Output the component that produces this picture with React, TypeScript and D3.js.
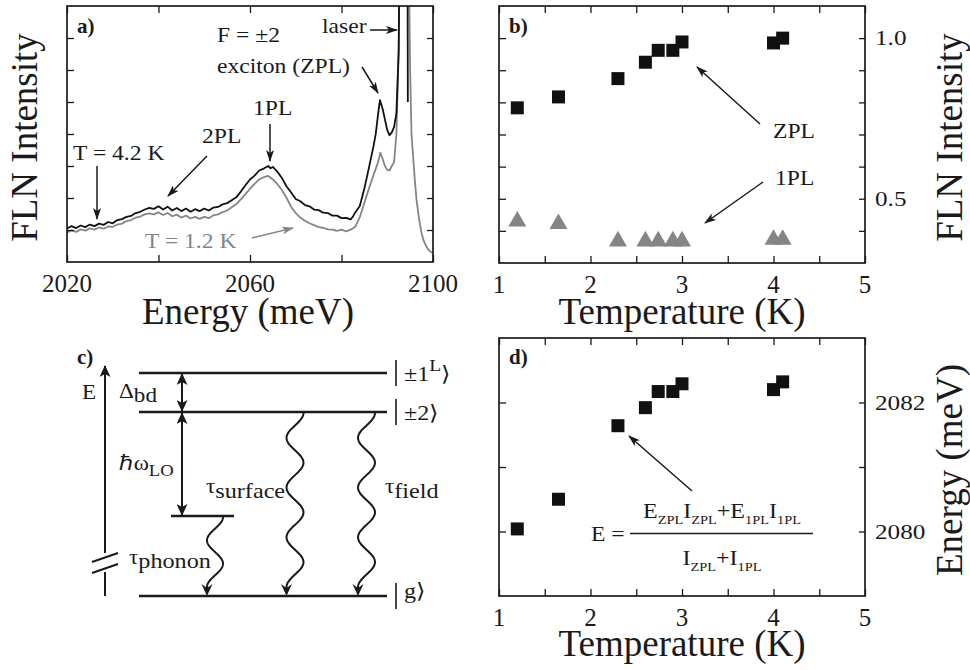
import React, { useEffect, useRef } from "react";
import * as d3 from "d3";

// panel a: FLN spectra [energy (meV), intensity (arb. units)]
const spec42K: [number, number][] = [
  [2020, 1.05], [2021, 1.12], [2022, 1.06], [2023, 1.14], [2024, 1.09], [2025, 1.17], [2026, 1.12],
  [2027, 1.2], [2028, 1.16], [2029, 1.25], [2030, 1.21], [2031, 1.31], [2032, 1.34], [2033, 1.41],
  [2034, 1.44], [2035, 1.53], [2036, 1.57], [2037, 1.64], [2038, 1.69], [2039, 1.66], [2040, 1.74],
  [2041, 1.64], [2042, 1.73], [2043, 1.61], [2044, 1.69], [2045, 1.59], [2046, 1.67], [2047, 1.57],
  [2048, 1.65], [2049, 1.59], [2050, 1.67], [2051, 1.61], [2052, 1.7], [2053, 1.72], [2054, 1.8],
  [2055, 1.84], [2056, 1.93], [2057, 2.02], [2058, 2.2], [2059, 2.4], [2060, 2.58], [2061, 2.7],
  [2062, 2.86], [2063, 2.92], [2064, 3.0], [2064.5, 2.93], [2065, 2.97], [2066, 2.82], [2067, 2.62],
  [2068, 2.36], [2069, 2.17], [2070, 1.97], [2071, 1.9], [2072, 1.78], [2073, 1.74], [2074, 1.64],
  [2075, 1.62], [2076, 1.54], [2077, 1.53], [2078, 1.45], [2079, 1.45], [2080, 1.37], [2081, 1.38],
  [2082, 1.33], [2082.5, 1.42], [2083, 1.55], [2084, 1.75], [2085, 2.3], [2085.5, 2.62], [2086, 2.95],
  [2087, 3.62], [2087.5, 4.02], [2088, 4.62], [2088.4, 5.06], [2089, 4.78], [2089.5, 4.45], [2090, 4.12],
  [2090.5, 3.96], [2091, 4.05], [2091.5, 4.22], [2092, 4.65], [2092.5, 6.6], [2092.8, 12], [2094.4, 12],
  [2094.5, 5.0],
];
const spec12K: [number, number][] = [
  [2020, 0.92], [2021, 0.99], [2022, 0.94], [2023, 1.02], [2024, 0.98], [2025, 1.05], [2026, 1.01],
  [2027, 1.08], [2028, 1.04], [2029, 1.11], [2030, 1.1], [2031, 1.17], [2032, 1.2], [2033, 1.28],
  [2034, 1.31], [2035, 1.39], [2036, 1.42], [2037, 1.49], [2038, 1.52], [2039, 1.49], [2040, 1.55],
  [2041, 1.47], [2042, 1.53], [2043, 1.43], [2044, 1.48], [2045, 1.39], [2046, 1.45], [2047, 1.36],
  [2048, 1.41], [2049, 1.35], [2050, 1.41], [2051, 1.37], [2052, 1.46], [2053, 1.49], [2054, 1.56],
  [2055, 1.61], [2056, 1.71], [2057, 1.81], [2058, 1.96], [2059, 2.12], [2060, 2.29], [2061, 2.44],
  [2062, 2.58], [2063, 2.65], [2064, 2.69], [2065, 2.58], [2066, 2.43], [2067, 2.24], [2068, 2.0],
  [2069, 1.72], [2070, 1.53], [2071, 1.39], [2072, 1.29], [2073, 1.21], [2074, 1.15], [2075, 1.09],
  [2076, 1.07], [2077, 1.02], [2078, 1.01], [2079, 0.97], [2080, 1.01], [2081, 0.96], [2082, 1.01],
  [2083, 1.1], [2084, 1.4], [2085, 1.85], [2086, 2.3], [2087, 2.72], [2088, 3.12], [2088.5, 3.42],
  [2089, 3.22], [2089.5, 3.0], [2090, 2.88], [2090.5, 2.86], [2091, 3.0], [2091.5, 3.12], [2092, 4.0],
  [2092.5, 6.6], [2092.9, 12], [2094.5, 12], [2095, 6.0], [2095.3, 4.0], [2096, 2.6], [2096.4, 1.94],
  [2097, 1.3], [2097.5, 0.9], [2098, 0.65], [2098.6, 0.47], [2099, 0.38], [2099.5, 0.32], [2100, 0.28],
];

// panels b and d
const temps = [1.2, 1.65, 2.3, 2.6, 2.74, 2.9, 3.0, 4.0, 4.1];
const zplInt = [0.783, 0.817, 0.874, 0.925, 0.962, 0.962, 0.988, 0.985, 1.0];
const onePLInt = [0.438, 0.43, 0.376, 0.376, 0.376, 0.376, 0.376, 0.381, 0.381];
const meanEnergy = [2080.04, 2080.5, 2081.64, 2081.92, 2082.17, 2082.17, 2082.29, 2082.2, 2082.32];

const energyTicks = [2020, 2040, 2060, 2080, 2100];
const energyLabels = [2020, 2060, 2100];
const specTicks = [1, 2, 3, 4, 5, 6, 7];
const tempTicks = [1, 1.5, 2, 2.5, 3, 3.5, 4, 4.5, 5];
const tempLabels = [1, 2, 3, 4, 5];
const intTicks = [0.4, 0.5, 0.6, 0.7, 0.8, 0.9, 1.0];
const intLabels = [0.5, 1.0];
const eTicks = [2080, 2081, 2082];
const eLabels = [2080, 2082];

const FONT = "'Liberation Serif','Times New Roman',Times,serif";
const INK = "#1a1a1a";
const GREY = "#858585";

type Part = { t: string; size?: number; dy?: number };
type Opts = { size: number; sx?: number; anchor?: string; weight?: string; fill?: string; rot?: number };

function label(g: any, x: number, y: number, parts: string | Part[], o: Opts) {
  const t = g
    .append("text")
    .attr("transform", `translate(${x},${y}) rotate(${o.rot ?? 0}) scale(${o.sx ?? 1},1)`)
    .attr("font-family", FONT)
    .attr("font-size", o.size)
    .attr("text-anchor", o.anchor ?? "start")
    .attr("fill", o.fill ?? INK)
    .attr("stroke", "none");
  if (o.weight) t.attr("font-weight", o.weight);
  if (typeof parts === "string") t.text(parts);
  else
    parts.forEach((p) => {
      const s = t.append("tspan").text(p.t);
      if (p.size) s.attr("font-size", p.size);
      if (p.dy) s.attr("dy", p.dy);
    });
  return t;
}

function frame(g: any, x: any, y: any, xTicks: number[], yTicks: number[]) {
  const [x0, x1] = x.range();
  const [y0, y1] = y.range();
  const add = (axis: any, tx: number, ty: number) => {
    const a = g.append("g").attr("transform", `translate(${tx},${ty})`).call(axis);
    a.select(".domain").remove();
    a.selectAll("text").remove();
    a.selectAll("line").attr("stroke", INK).attr("stroke-width", 1.3);
  };
  add(d3.axisBottom(x).tickValues(xTicks).tickSize(-7), 0, y0);
  add(d3.axisTop(x).tickValues(xTicks).tickSize(-7), 0, y1);
  add(d3.axisLeft(y).tickValues(yTicks).tickSize(-7), x0, 0);
  add(d3.axisRight(y).tickValues(yTicks).tickSize(-6), x1, 0);
  g.append("rect")
    .attr("x", x0).attr("y", y1)
    .attr("width", x1 - x0).attr("height", y0 - y1)
    .attr("fill", "none").attr("stroke", INK).attr("stroke-width", 1.7);
}

function arrow(g: any, x1: number, y1: number, x2: number, y2: number, grey = false) {
  g.append("line")
    .attr("x1", x1).attr("y1", y1).attr("x2", x2).attr("y2", y2)
    .attr("stroke", grey ? GREY : INK).attr("stroke-width", 1.5)
    .attr("marker-end", grey ? "url(#ahGrey)" : "url(#ah)");
}

function draw(svg: any) {
  const defs = svg.append("defs");
  const mk = (id: string, fill: string, w: number, h: number) =>
    defs.append("marker")
      .attr("id", id).attr("markerUnits", "userSpaceOnUse")
      .attr("markerWidth", w).attr("markerHeight", h)
      .attr("refX", w - 1).attr("refY", h / 2).attr("orient", "auto-start-reverse")
      .append("path")
      .attr("d", `M0,0L${w},${h / 2}L0,${h}L${w * 0.25},${h / 2}Z`)
      .attr("fill", fill);
  mk("ah", INK, 12, 8);
  mk("ahGrey", GREY, 12, 8);
  mk("ahBig", INK, 12, 11);

  // ---------- a) spectra ----------
  const ga = svg.append("g");
  const xE = d3.scaleLinear().domain([2020, 2100]).range([67, 433]);
  const yS = d3.scaleLinear().domain([0, 8]).range([262, 6]);
  defs.append("clipPath").attr("id", "clipA").append("rect")
    .attr("x", 67).attr("y", 6).attr("width", 366).attr("height", 256);
  const line = d3.line<[number, number]>().x((d) => xE(d[0])).y((d) => yS(d[1]));
  const curves = ga.append("g").attr("clip-path", "url(#clipA)");
  curves.append("path").attr("d", line(spec12K)).attr("fill", "none")
    .attr("stroke", GREY).attr("stroke-width", 1.8).attr("stroke-linejoin", "round");
  curves.append("path").attr("d", line(spec42K)).attr("fill", "none")
    .attr("stroke", "#111").attr("stroke-width", 1.8).attr("stroke-linejoin", "round");
  frame(ga, xE, yS, energyTicks, specTicks);
  energyLabels.forEach((v) => label(ga, xE(v), 292, String(v), { size: 25, anchor: "middle" }));
  label(ga, 248, 324, "Energy (meV)", { size: 37, anchor: "middle" });
  label(ga, 37, 137.5, "FLN Intensity", { size: 37, anchor: "middle", rot: -90 });

  label(ga, 77, 33, "a)", { size: 21, weight: "bold" });
  const ann = { size: 20, sx: 1.18 };
  label(ga, 217, 42, "F = ±2", ann);
  label(ga, 217, 73, "exciton (ZPL)", ann);
  label(ga, 322, 33, "laser", ann);
  arrow(ga, 370, 30, 397, 30);
  arrow(ga, 362, 67, 378, 93);
  label(ga, 253, 115, "1PL", ann);
  arrow(ga, 270, 124, 270, 161);
  label(ga, 202, 143, "2PL", ann);
  arrow(ga, 207, 156, 168, 196);
  label(ga, 73, 160, "T = 4.2 K", ann);
  arrow(ga, 97, 166, 97, 219);
  label(ga, 145, 248, "T = 1.2 K", { ...ann, fill: GREY });
  arrow(ga, 252, 238, 293, 228, true);

  // ---------- b) intensities ----------
  const gb = svg.append("g");
  const xT = d3.scaleLinear().domain([1, 5]).range([499, 865]);
  const yI = d3.scaleLinear().domain([0.3, 1.1]).range([263, 6]);
  frame(gb, xT, yI, tempTicks, intTicks);
  const sq = d3.symbol(d3.symbolSquare, 169)();
  const tri = d3.symbol(d3.symbolTriangle, 140)();
  gb.selectAll(".zpl").data(temps).enter().append("path")
    .attr("d", sq).attr("fill", "#111")
    .attr("transform", (d: number, i: number) => `translate(${xT(d)},${yI(zplInt[i])})`);
  gb.selectAll(".pl1").data(temps).enter().append("path")
    .attr("d", tri).attr("fill", GREY)
    .attr("transform", (d: number, i: number) => `translate(${xT(d)},${yI(onePLInt[i]) + 2.6})`);
  tempLabels.forEach((v) => label(gb, xT(v), 293, String(v), { size: 25, anchor: "middle" }));
  intLabels.forEach((v) => label(gb, 875, yI(v) + 7, d3.format(".1f")(v), { size: 21, sx: 1.2 }));
  label(gb, 682, 324, "Temperature (K)", { size: 37, anchor: "middle" });
  label(gb, 962, 137.5, "FLN Intensity", { size: 37, anchor: "middle", rot: -90 });
  label(gb, 509, 33, "b)", { size: 21, weight: "bold" });
  label(gb, 773, 138, "ZPL", ann);
  arrow(gb, 760, 124, 697, 67);
  label(gb, 775, 185, "1PL", ann);
  arrow(gb, 763, 182, 705, 223);

  // ---------- d) mean energy ----------
  const gd = svg.append("g");
  const yEn = d3.scaleLinear().domain([2079, 2083]).range([596, 338]);
  frame(gd, xT, yEn, tempTicks, eTicks);
  gd.selectAll(".en").data(temps).enter().append("path")
    .attr("d", sq).attr("fill", "#111")
    .attr("transform", (d: number, i: number) => `translate(${xT(d)},${yEn(meanEnergy[i])})`);
  tempLabels.forEach((v) => label(gd, xT(v), 626, String(v), { size: 25, anchor: "middle" }));
  eLabels.forEach((v) => label(gd, 875, yEn(v) + 7, String(v), { size: 21, sx: 1.2 }));
  label(gd, 682, 656, "Temperature (K)", { size: 37, anchor: "middle" });
  label(gd, 962, 470, "Energy (meV)", { size: 37, anchor: "middle", rot: -90 });
  label(gd, 509, 364, "d)", { size: 21, weight: "bold" });
  arrow(gd, 692, 491, 629, 436);
  const sub = (t: string): Part => ({ t, size: 12, dy: 6 });
  const up = (t: string): Part => ({ t, dy: -6 });
  label(gd, 591, 541, "E =", ann);
  label(gd, 722, 518, [{ t: "E" }, sub("ZPL"), up("I"), sub("ZPL"), up("+E"), sub("1PL"), up("I"), sub("1PL")],
    { size: 20, sx: 1.2, anchor: "middle" });
  gd.append("line").attr("x1", 630).attr("x2", 813).attr("y1", 533.5).attr("y2", 533.5)
    .attr("stroke", INK).attr("stroke-width", 1.3);
  label(gd, 722, 565, [{ t: "I" }, sub("ZPL"), up("+I"), sub("1PL")], { size: 20, sx: 1.2, anchor: "middle" });

  // ---------- c) level scheme ----------
  const gc = svg.append("g").attr("stroke", INK).attr("fill", "none");
  const lvl = { top: 373, mid: 412, ph: 516, g: 596 };
  const hline = (x1: number, x2: number, y: number) =>
    gc.append("line").attr("x1", x1).attr("x2", x2).attr("y1", y).attr("y2", y).attr("stroke-width", 2.4);
  hline(139, 387, lvl.top);
  hline(139, 387, lvl.mid);
  hline(171, 234, lvl.ph);
  hline(139, 387, lvl.g);

  // energy axis with break
  gc.append("line").attr("x1", 105).attr("x2", 105).attr("y1", 596).attr("y2", 572).attr("stroke-width", 2);
  gc.append("line").attr("x1", 105).attr("x2", 105).attr("y1", 553).attr("y2", 366)
    .attr("stroke-width", 2).attr("marker-end", "url(#ahBig)");
  gc.append("line").attr("x1", 92).attr("x2", 118).attr("y1", 562).attr("y2", 553).attr("stroke-width", 2);
  gc.append("line").attr("x1", 92).attr("x2", 118).attr("y1", 573).attr("y2", 564).attr("stroke-width", 2);

  // double arrows
  const dbl = (y1: number, y2: number) =>
    gc.append("line").attr("x1", 182).attr("x2", 182).attr("y1", y1 + 1).attr("y2", y2 - 1)
      .attr("stroke-width", 2).attr("marker-start", "url(#ahBig)").attr("marker-end", "url(#ahBig)");
  dbl(lvl.top, lvl.mid);
  dbl(lvl.mid, lvl.ph);

  // wavy decay arrows: cosine from the level down to the arrow tip, ending on the left swing
  const wave = (cx: number, amp: number, y0: number, halfWaves: number, tipY: number) => {
    const yEnd = tipY - 9;
    const half = (yEnd - y0) / halfWaves;
    const pts: [number, number][] = d3.range(0, 1.0001, 0.01).map((f) => {
      const y = y0 + f * (yEnd - y0);
      return [cx + amp * Math.cos((Math.PI * (y - y0)) / half), y];
    });
    pts.push([cx - amp, tipY - 4]);
    gc.append("path").attr("d", d3.line()(pts)).attr("stroke-width", 2).attr("stroke-linejoin", "round");
    const tx = cx - amp;
    gc.append("path")
      .attr("d", `M${tx},${tipY}L${tx - 5.5},${tipY - 12}L${tx},${tipY - 8}L${tx + 5.5},${tipY - 12}Z`)
      .attr("fill", INK).attr("stroke", "none");
  };
  wave(215, 8, lvl.ph + 1, 3, lvl.g);
  wave(295, 8.5, lvl.mid + 1, 7, lvl.g);
  wave(366.5, 8.5, lvl.mid + 1, 7, lvl.g);

  // kets
  const ket = (y: number) =>
    gc.append("line").attr("x1", 396).attr("x2", 396).attr("y1", y - 13).attr("y2", y + 13).attr("stroke-width", 1.6);
  ket(lvl.top);
  ket(lvl.mid);
  ket(lvl.g);
  const kt = { size: 21, sx: 1.15 };
  label(svg, 404, 381, [{ t: "±1" }, { t: "L", size: 17, dy: -10 }, { t: "⟩", dy: 10 }], kt);
  label(svg, 404, 420, [{ t: "±2" }, { t: "⟩" }], kt);
  label(svg, 404, 598, [{ t: "g" }, { t: "⟩" }], kt);

  const ct = { size: 21, sx: 1.1 };
  label(svg, 77, 364, "c)", { size: 21, weight: "bold" });
  label(svg, 82, 399, "E", { size: 21, sx: 1.1 });
  label(svg, 119, 398, [{ t: "Δ" }, { t: "bd", dy: 4 }], ct);
  label(svg, 119, 470, [{ t: "ℏω" }, { t: "LO", size: 17, dy: 6 }], ct);
  label(svg, 206, 493, [{ t: "τ" }, { t: "surface", size: 22, dy: 5 }], ct);
  label(svg, 385, 493, [{ t: "τ" }, { t: "field", size: 22, dy: 5 }], ct);
  label(svg, 129, 564, [{ t: "τ" }, { t: "phonon", size: 22, dy: 4 }], ct);
}

export default function App() {
  const ref = useRef<SVGSVGElement>(null);
  useEffect(() => {
    const svg = d3.select(ref.current);
    svg.selectAll("*").remove();
    draw(svg);
  }, []);
  return (
    <svg
      ref={ref}
      width={970}
      height={670}
      style={{ position: "absolute", left: 0, top: 0, background: "#fff" }}
    />
  );
}
